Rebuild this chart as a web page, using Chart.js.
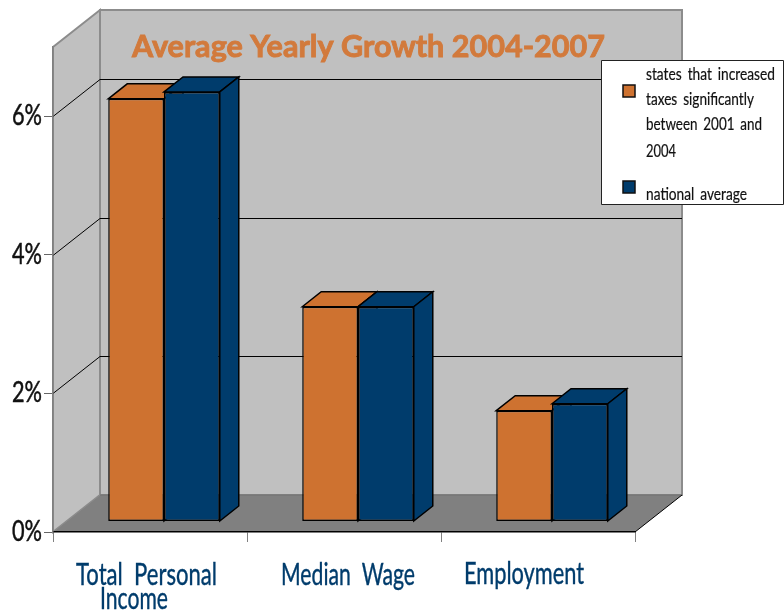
<!DOCTYPE html>
<html>
<head>
<meta charset="utf-8">
<title>Average Yearly Growth 2004-2007</title>
<script src="https://cdn.jsdelivr.net/npm/chart.js@4"></script>
<style>
  html, body { margin: 0; padding: 0; background: #fff; }
  canvas { display: block; }
</style>
</head>
<body>
<canvas id="growth-chart" width="784" height="611"></canvas>
<script>
const categories = ['Total Personal Income', 'Median Wage', 'Employment'];
const categoryLines = [['Total  Personal', 'Income'], ['Median  Wage'], ['Employment']];
const taxStates = [6.1, 3.1, 1.6];
const nationalAverage = [6.2, 3.1, 1.7];
const yTicks = [0, 2, 4, 6];
const chartTitle = 'Average Yearly Growth 2004-2007';
const legendLines = [['states that increased', 'taxes significantly', 'between 2001 and', '2004'], ['national average']];

const ORANGE = '#CE7230';
const NAVY = '#003C6C';
const FACE = 'Lato, "Open Sans", sans-serif';

// perspective of the box: floor/wall depth, and bar depth
const WALL_DX = 47, WALL_DY = -37;
const BAR_DX = 19, BAR_DY = -15;
const BAR_SHIFT_X = 14, BAR_SHIFT_Y = -10.5;

const poly = (ctx, pts, fill, stroke, lineWidth) => {
  ctx.beginPath();
  pts.forEach(([x, y], i) => (i ? ctx.lineTo(x, y) : ctx.moveTo(x, y)));
  ctx.closePath();
  if (fill) { ctx.fillStyle = fill; ctx.fill(); }
  if (stroke) { ctx.strokeStyle = stroke; ctx.lineWidth = lineWidth; ctx.stroke(); }
};

const line = (ctx, pts, color, width) => {
  ctx.beginPath();
  pts.forEach(([x, y], i) => (i ? ctx.lineTo(x, y) : ctx.moveTo(x, y)));
  ctx.strokeStyle = color;
  ctx.lineWidth = width;
  ctx.stroke();
};

// the installed faces are all too wide, so text gets squeezed to its slot
const fitText = (ctx, text, x, baseline, width, font, color, heavy) => {
  ctx.save();
  ctx.font = font;
  ctx.fillStyle = color;
  ctx.textAlign = 'left';
  ctx.textBaseline = 'alphabetic';
  ctx.translate(x, baseline);
  ctx.scale(width / ctx.measureText(text).width, 1);
  ctx.fillText(text, 0, 0);
  if (heavy) {
    ctx.strokeStyle = color;
    ctx.lineWidth = heavy;
    ctx.strokeText(text, 0, 0);
  }
  ctx.restore();
};

const roomPlugin = {
  id: 'room',
  beforeDraw(chart) {
    const { ctx, chartArea: { left, right, top, bottom }, scales: { y } } = chart;
    const backLeft = left + WALL_DX, backRight = right + WALL_DX;
    const backTop = top + WALL_DY, backBottom = bottom + WALL_DY;

    ctx.save();
    poly(ctx, [[backLeft, backTop], [backRight, backTop], [backRight, backBottom], [backLeft, backBottom]], '#C0C0C0', '#8C8C8C', 2);
    poly(ctx, [[left, top], [backLeft, backTop], [backLeft, backBottom], [left, bottom]], '#C0C0C0', '#8C8C8C', 2);
    poly(ctx, [[left, bottom], [backLeft, backBottom], [backRight, backBottom], [right, bottom]], '#808080');
    line(ctx, [[backLeft, backBottom], [backRight, backBottom]], '#707070', 1);
    line(ctx, [[left, bottom], [backLeft, backBottom]], '#8C8C8C', 1);
    line(ctx, [[right, bottom], [backRight, backBottom]], '#000', 1);

    // gridlines run up the side wall then across the back
    yTicks.filter((v) => v > 0).forEach((v) => {
      const py = Math.round(y.getPixelForValue(v)) + 0.5;
      line(ctx, [[left, py], [backLeft, py + WALL_DY], [backRight, py + WALL_DY]], '#000', 1);
    });
    ctx.restore();
  },
  beforeDatasetsDraw(chart) {
    const { ctx } = chart;
    ctx.save();
    ctx.translate(BAR_SHIFT_X, BAR_SHIFT_Y);
    ctx.lineJoin = 'miter';

    // tops and sides go in first so the library's bars sit over them
    chart.data.datasets.forEach((ds, d) => {
      chart.getDatasetMeta(d).data.forEach((bar) => {
        const l = bar.x - bar.width / 2, r = bar.x + bar.width / 2;
        const t = bar.y, b = bar.base;
        poly(ctx, [[l, t], [l + BAR_DX, t + BAR_DY], [r + BAR_DX, t + BAR_DY], [r, t]], ds.backgroundColor, '#000', 1.5);
        poly(ctx, [[r, t], [r + BAR_DX, t + BAR_DY], [r + BAR_DX, b + BAR_DY], [r, b]], ds.backgroundColor, '#000', 1.5);
      });
    });
  },
  afterDatasetsDraw(chart) {
    chart.ctx.restore();
  },
  afterDraw(chart) {
    const { ctx, scales: { y } } = chart;
    ctx.save();

    fitText(ctx, chartTitle, 132, 57, 473, 'bold 30px ' + FACE, '#D27A3C', 0.9);

    y.ticks.forEach((tick) => {
      const py = y.getPixelForValue(tick.value);
      fitText(ctx, tick.label, 12, py + 9, 30, '29px ' + FACE, '#111', 0.5);
    });

    // each category line has its own slot under the axis: [x, baseline, width]
    const labelSlots = [[[76, 585, 141], [100, 609, 68]], [[281, 585, 134]], [[464, 584, 120]]];
    categoryLines.forEach((lines, i) => {
      lines.forEach((text, j) => {
        const [lx, baseline, width] = labelSlots[i][j];
        fitText(ctx, text, lx, baseline, width, '31px ' + FACE, NAVY, 0.4);
      });
    });

    // legend box
    poly(ctx, [[601.5, 60.5], [783.5, 60.5], [783.5, 204.5], [601.5, 204.5]], '#fff', '#222', 1);
    const swatchY = [85, 181];
    chart.data.datasets.forEach((ds, i) => {
      ctx.fillStyle = ds.backgroundColor;
      ctx.strokeStyle = '#111';
      ctx.lineWidth = 1.5;
      ctx.fillRect(623, swatchY[i], 12, 12);
      ctx.strokeRect(623, swatchY[i], 12, 12);
    });
    const legendBaselines = [[80, 105, 130, 157], [200]];
    const legendWidths = [[129, 108, 116, 30], [101]];
    ctx.wordSpacing = '3px';
    legendLines.forEach((lines, i) => {
      lines.forEach((text, j) => {
        fitText(ctx, text, 646, legendBaselines[i][j], legendWidths[i][j], '17px ' + FACE, '#111', 0.2);
      });
    });
    ctx.wordSpacing = '0px';
    ctx.restore();
  }
};

new Chart(document.getElementById('growth-chart').getContext('2d'), {
  type: 'bar',
  data: {
    labels: categories,
    datasets: [
      { label: 'states that increased taxes significantly between 2001 and 2004', data: taxStates, backgroundColor: ORANGE, borderColor: '#000', borderWidth: 1.5, borderSkipped: false, clip: false },
      { label: 'national average', data: nationalAverage, backgroundColor: NAVY, borderColor: '#000', borderWidth: 1.5, borderSkipped: false, clip: false }
    ]
  },
  plugins: [roomPlugin],
  options: {
    responsive: false,
    animation: false,
    layout: { padding: { top: 47, right: 149, bottom: 0, left: 0 } },
    datasets: { bar: { categoryPercentage: 0.575, barPercentage: 1 } },
    plugins: { legend: { display: false }, title: { display: false }, tooltip: { enabled: false } },
    scales: {
      x: {
        afterFit: (scale) => { scale.height = 79; },
        border: { color: '#000', width: 1.5 },
        grid: { drawOnChartArea: false, tickLength: 10, color: '#808080', lineWidth: 1 },
        ticks: { display: false }
      },
      y: {
        min: 0,
        max: 7,
        afterFit: (scale) => { scale.width = 53; },
        border: { color: '#808080', width: 1.5 },
        grid: { drawOnChartArea: false, tickLength: 9, color: '#666', lineWidth: 1 },
        ticks: {
          display: false,
          stepSize: 2,
          includeBounds: false,
          callback: (value) => value + '%'
        }
      }
    }
  }
});
</script>
</body>
</html>
